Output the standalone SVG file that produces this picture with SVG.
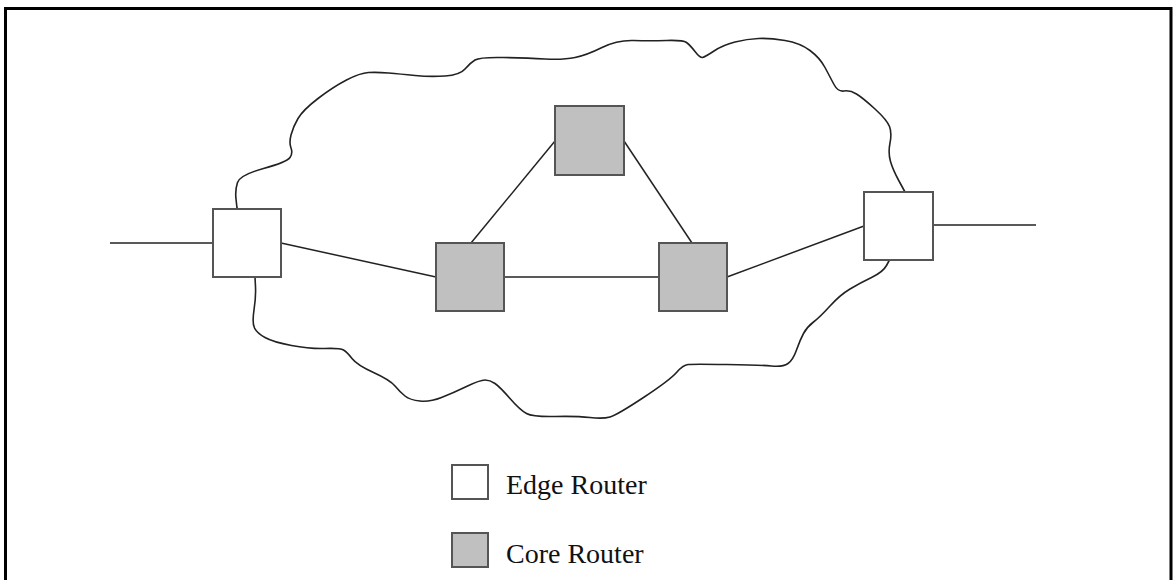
<svg xmlns="http://www.w3.org/2000/svg" width="1176" height="580" viewBox="0 0 1176 580">
<style>
.edge{fill:#ffffff;stroke:#555;stroke-width:2}
.core{fill:#c0c0c0;stroke:#555;stroke-width:2}
.link{stroke:#222;stroke-width:1.5;fill:none}
.cloud{fill:none;stroke:#222;stroke-width:1.6;stroke-linejoin:round}
.lbl{font-family:"Liberation Serif","Times New Roman",serif;font-size:28px;fill:#111}
</style>
<rect x="0" y="0" width="1176" height="580" fill="#ffffff"/>
<rect x="5.5" y="8.5" width="1165.5" height="600" fill="none" stroke="#000" stroke-width="3"/>
<path id="cloud" class="cloud" d="M237,208 L236,199 Q235,190 237.5,182.5 Q240,175 263.5,168.5 Q287,162 290,157.5 Q293,153 291,148 Q289,143 291,135 Q293,127 298,118.5 Q303,110 318,98.5 Q333,87 346.5,80 Q360,73 368.5,72.5 Q377,72 388.5,73 Q400,74 415,75.5 Q430,77 445,76 Q460,75 465,69 Q470,63 475,60 Q480,57 503.5,57.5 Q527,58 545,59 Q563,60 575,57.5 Q587,55 602,47.5 Q617,40 633.5,40.5 Q650,41 666.5,40.5 Q683,40 686.5,42.5 Q690,45 695,51.5 Q700,58 702.5,57.5 Q705,57 714,51 Q723,45 735,42 Q747,39 758.5,38.5 Q770,38 785,40.5 Q800,43 810,50.5 Q820,58 825,67.5 Q830,77 834,84.5 Q838,92 844,91 Q850,90 856.5,94 Q863,98 875,109 Q887,120 889.5,126.5 Q892,133 890,143 Q888,153 890.5,161.5 Q893,170 899,181 L905,192 L890,259 L886.5,265.5 Q883,272 871.5,277.5 Q860,283 850,289 Q840,295 830,306 Q820,317 813.5,322 Q807,327 803.5,333.5 Q800,340 796.5,350 Q793,360 788,363.5 Q783,367 771.5,366 Q760,365 726.5,364.5 Q693,364 688,364.5 Q683,365 676.5,372.5 Q670,380 643.5,397.5 Q617,415 610,417 Q603,419 590,417.5 Q577,416 555,416.5 Q533,417 526.5,413.5 Q520,410 510,398.5 Q500,387 495,383.5 Q490,380 485,380 Q480,380 466.5,386.5 Q453,393 441.5,397.5 Q430,402 420,401 Q410,400 405,396 Q400,392 395,386 Q390,380 373.5,372.5 Q357,365 352,358.5 Q347,352 343.5,350 Q340,348 325,348.5 Q310,349 291.5,345.5 Q273,342 265,337.5 Q257,333 254.5,328 Q252,323 254,310 Q256,297 255.5,287 L255,277 Z"/>
<g id="connectors">
<line class="link" x1="110" y1="243" x2="213" y2="243"/>
<line class="link" x1="281" y1="243" x2="436" y2="277"/>
<line class="link" x1="504" y1="277" x2="659" y2="277"/>
<line class="link" x1="471" y1="243" x2="555" y2="141"/>
<line class="link" x1="624" y1="141" x2="692" y2="243"/>
<line class="link" x1="727" y1="277" x2="864" y2="226"/>
<line class="link" x1="933" y1="225" x2="1036" y2="225"/>
</g>
<g id="edge-left"><rect class="edge" x="213" y="209" width="68" height="68"/></g>
<g id="edge-right"><rect class="edge" x="864" y="192" width="69" height="68"/></g>
<g id="core-top"><rect class="core" x="555" y="106" width="69" height="69"/></g>
<g id="core-left"><rect class="core" x="436" y="243" width="68" height="68"/></g>
<g id="core-right"><rect class="core" x="659" y="243" width="68" height="68"/></g>
<g id="legend-edge">
<rect class="edge" x="452" y="465" width="36" height="34"/>
<text class="lbl" x="506" y="494">Edge Router</text>
</g>
<g id="legend-core">
<rect class="core" x="452" y="533" width="36" height="34"/>
<text class="lbl" x="506" y="563">Core Router</text>
</g>
</svg>
